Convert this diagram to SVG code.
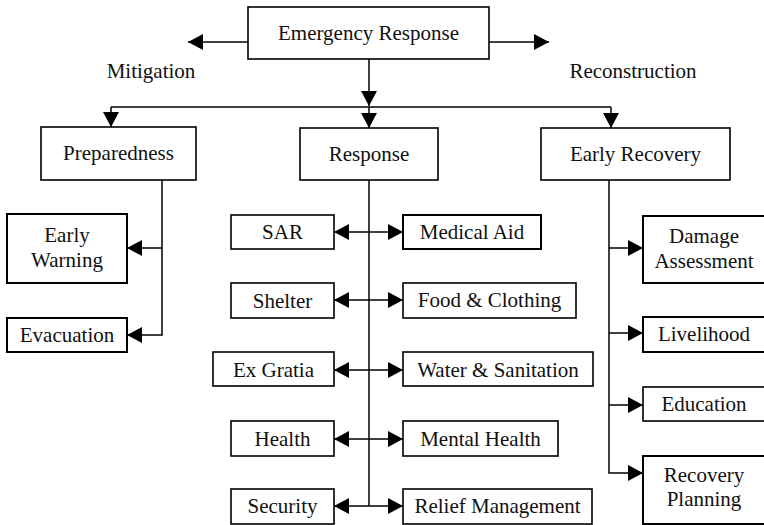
<svg xmlns="http://www.w3.org/2000/svg" width="764" height="525" viewBox="0 0 764 525">
<style>
.box{fill:#fff;stroke:#000;stroke-width:1.6}
.thk{stroke-width:2}
.t{font-family:"Liberation Serif","Times New Roman",serif;font-size:21px;fill:#111;text-anchor:middle}
.ln{fill:none;stroke:#000;stroke-width:1.5}
.ar{marker-end:url(#ah)}
.dar{marker-start:url(#ah);marker-end:url(#ah)}
</style>
<defs>
<marker id="ah" viewBox="0 0 15 16" refX="15" refY="8" markerWidth="15" markerHeight="16" orient="auto-start-reverse" markerUnits="userSpaceOnUse"><path d="M0,0 L15,8 L0,16 Z" fill="#000"/></marker>
</defs>
<rect width="764" height="525" fill="#fff"/>
<g id="connectors">
<line class="ln ar" x1="248" y1="42" x2="188" y2="42"/>
<line class="ln ar" x1="489" y1="42" x2="549" y2="42"/>
<line class="ln ar" x1="369" y1="59" x2="369" y2="106"/>
<line class="ln" x1="111" y1="107" x2="611" y2="107"/>
<line class="ln ar" x1="111" y1="107" x2="111" y2="127"/>
<line class="ln ar" x1="369" y1="107" x2="369" y2="128"/>
<line class="ln ar" x1="611" y1="107" x2="611" y2="128"/>
<path class="ln ar" d="M162,180 V335 H127"/>
<line class="ln ar" x1="162" y1="248" x2="127" y2="248"/>
<line class="ln" x1="369" y1="180" x2="369" y2="506"/>
<line class="ln dar" x1="334" y1="232" x2="403" y2="232"/>
<line class="ln dar" x1="334" y1="300" x2="403" y2="300"/>
<line class="ln dar" x1="334" y1="370" x2="403" y2="370"/>
<line class="ln dar" x1="334" y1="439" x2="403" y2="439"/>
<line class="ln dar" x1="334" y1="506" x2="403" y2="506"/>
<path class="ln ar" d="M609,180 V473 H643"/>
<line class="ln ar" x1="609" y1="248" x2="643" y2="248"/>
<line class="ln ar" x1="609" y1="333" x2="643" y2="333"/>
<line class="ln ar" x1="609" y1="405" x2="643" y2="405"/>
</g>
<g id="labels">
<text class="t" x="151" y="78">Mitigation</text>
<text class="t" x="633" y="78">Reconstruction</text>
</g>
<g id="emergency-response"><rect class="box" x="248" y="7" width="241" height="52"/><text class="t" x="368.5" y="40">Emergency Response</text></g>
<g id="preparedness"><rect class="box" x="41" y="127" width="155" height="53"/><text class="t" x="118.5" y="160">Preparedness</text></g>
<g id="response"><rect class="box" x="300" y="128" width="138" height="52"/><text class="t" x="369" y="161">Response</text></g>
<g id="early-recovery"><rect class="box" x="541" y="128" width="189" height="52"/><text class="t" x="635.5" y="161">Early Recovery</text></g>
<g id="early-warning"><rect class="box thk" x="7" y="214" width="120" height="69"/><text class="t" x="67" y="242">Early</text><text class="t" x="67" y="267">Warning</text></g>
<g id="evacuation"><rect class="box thk" x="7" y="318" width="120" height="34"/><text class="t" x="67" y="342">Evacuation</text></g>
<g id="sar"><rect class="box" x="231" y="215" width="103" height="34"/><text class="t" x="282.5" y="239">SAR</text></g>
<g id="medical-aid"><rect class="box thk" x="403" y="215" width="138" height="34"/><text class="t" x="472" y="239">Medical Aid</text></g>
<g id="shelter"><rect class="box" x="231" y="283" width="103" height="35"/><text class="t" x="282.5" y="308">Shelter</text></g>
<g id="food-clothing"><rect class="box" x="403" y="283" width="173" height="35"/><text class="t" x="489.5" y="307">Food &amp; Clothing</text></g>
<g id="ex-gratia"><rect class="box" x="213" y="352" width="121" height="34"/><text class="t" x="273.5" y="377">Ex Gratia</text></g>
<g id="water-sanitation"><rect class="box" x="403" y="352" width="190" height="34"/><text class="t" x="498" y="377">Water &amp; Sanitation</text></g>
<g id="health"><rect class="box" x="231" y="421" width="103" height="35"/><text class="t" x="282.5" y="446">Health</text></g>
<g id="mental-health"><rect class="box" x="403" y="421" width="155" height="35"/><text class="t" x="480.5" y="446">Mental Health</text></g>
<g id="security"><rect class="box" x="231" y="489" width="103" height="35"/><text class="t" x="282.5" y="513">Security</text></g>
<g id="relief-management"><rect class="box" x="403" y="489" width="189" height="35"/><text class="t" x="497.5" y="513">Relief Management</text></g>
<g id="damage-assessment"><rect class="box thk" x="643" y="216" width="122" height="67"/><text class="t" x="704" y="243">Damage</text><text class="t" x="704" y="268">Assessment</text></g>
<g id="livelihood"><rect class="box thk" x="643" y="317" width="122" height="35"/><text class="t" x="704" y="341">Livelihood</text></g>
<g id="education"><rect class="box" x="643" y="387" width="122" height="34"/><text class="t" x="704" y="411">Education</text></g>
<g id="recovery-planning"><rect class="box thk" x="643" y="456" width="122" height="68"/><text class="t" x="704" y="482">Recovery</text><text class="t" x="704" y="506">Planning</text></g>
</svg>
